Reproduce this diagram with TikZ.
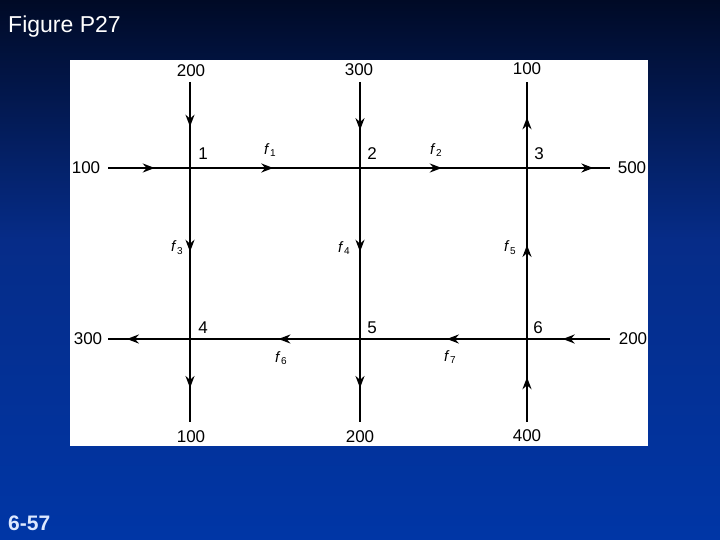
\documentclass[tikz,border=0pt]{standalone}
\usepackage{fontspec}
\setmainfont{Liberation Sans}
\usetikzlibrary{arrows.meta, decorations.markings, positioning}

\definecolor{navytop}{HTML}{000A26}
\definecolor{navymid}{HTML}{062C88}
\definecolor{navybot}{HTML}{0036A6}
\definecolor{pagenum}{HTML}{DDE8FF}

\newcommand{\flowvar}[1]{\textit{f}\kern0.5pt\raisebox{-0.35ex}{\fontsize{10}{10}\selectfont #1}}

\begin{document}
\begin{tikzpicture}[x=1pt,y=-1pt,
 flow/.style={line width=2pt, postaction={decorate},
   decoration={markings, mark=at position #1 with {\arrow{Stealth[length=12pt,width=9pt]}}}},
 num/.style={font=\fontsize{17}{17}\selectfont, inner sep=0pt},
 var/.style={font=\fontsize{15}{15}\selectfont, inner sep=0pt}]
  % slide background
  \useasboundingbox (0,0) rectangle (720,540);
  \shade[top color=navytop, bottom color=navymid] (0,0) rectangle (720,240);
  \shade[top color=navymid, bottom color=navybot] (0,240) rectangle (720,540);
  \fill[white] (70,60) rectangle (648,446);
  \node[anchor=base west, text=white, font=\fontsize{23}{23}\selectfont, inner sep=0pt] (title) at (8,33) {Figure P27};
  \node[anchor=base west, text=pagenum, font=\fontsize{21}{21}\selectfont\bfseries, inner sep=0pt] (page) at (8,530) {6-57};

  % junctions
  \coordinate (n1) at (190,168);
  \coordinate (n2) at (360,168);
  \coordinate (n3) at (527,168);
  \coordinate (n4) at (190,339);
  \coordinate (n5) at (360,339);
  \coordinate (n6) at (527,339);
  % free ends
  \coordinate (t1) at (190,82);
  \coordinate (t2) at (360,82);
  \coordinate (t3) at (527,82);
  \coordinate (b1) at (190,422);
  \coordinate (b2) at (360,422);
  \coordinate (b3) at (527,422);
  \coordinate (l1) at (108,168);
  \coordinate (r1) at (610,168);
  \coordinate (l2) at (108,339);
  \coordinate (r2) at (610,339);

  \foreach \s/\t/\p in {t1/n1/0.52, n1/n4/0.49, n4/b1/0.59,
                        t2/n2/0.56, n2/n5/0.49, n5/b2/0.59,
                        n3/t3/0.59, n6/n3/0.55, b3/n6/0.54,
                        l1/n1/0.57, n1/n2/0.49, n2/n3/0.49, n3/r1/0.80,
                        n4/l2/0.77, n5/n4/0.48, n6/n5/0.48, r2/n6/0.57} {
   \draw[flow=\p] (\s) -- (\t);}

  % outside flows
  \node[num] (in1) at (191,71) {200};
  \node[num] (in2) at (359,70) {300};
  \node[num] (out3) at (527,69) {100};
  \node[num] (inl) at (86,168) {100};
  \node[num] (outr) at (632,168) {500};
  \node[num] (outl) at (88,339) {300};
  \node[num] (inr) at (633,339) {200};
  \node[num] (out4) at (191,437) {100};
  \node[num] (out5) at (360,437) {200};
  \node[num] (in6) at (527,436) {400};

  % junction numbers
  \node[num] (j1) at (203,154) {1};
  \node[num] (j2) at (372,154) {2};
  \node[num] (j3) at (539,154) {3};
  \node[num] (j4) at (203,328) {4};
  \node[num] (j5) at (372,328) {5};
  \node[num] (j6) at (538,328) {6};

  % unknown flows
  \node[var] (f1) at (270,150) {\flowvar{1}};
  \node[var] (f2) at (436,150) {\flowvar{2}};
  \node[var] (f3) at (177,248) {\flowvar{3}};
  \node[var] (f4) at (344,248) {\flowvar{4}};
  \node[var] (f5) at (510,248) {\flowvar{5}};
  \node[var] (f6) at (281,358) {\flowvar{6}};
  \node[var] (f7) at (450,357) {\flowvar{7}};
\end{tikzpicture}
\end{document}
